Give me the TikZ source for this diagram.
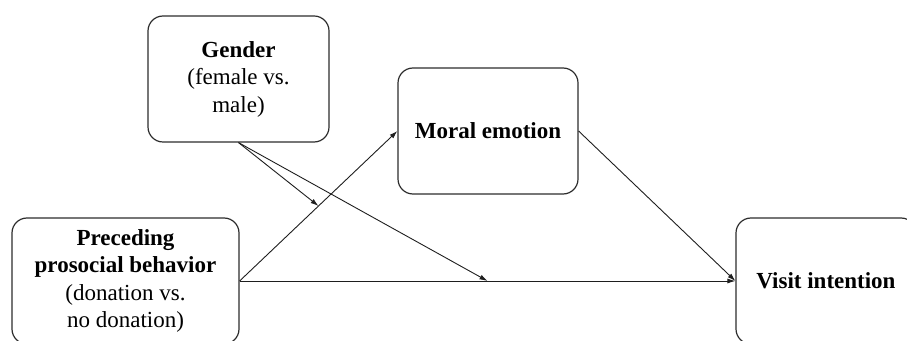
\documentclass[tikz,border=0pt]{standalone}
\usepackage{fontspec}
\setmainfont{Liberation Serif}
\usepackage{tikz}
\usetikzlibrary{calc, arrows.meta}
\tikzset{>={Latex[length=8pt,width=5pt]}}
\definecolor{sdark}{RGB}{45, 45, 45}
\definecolor{sline}{RGB}{30, 30, 30}

\begin{document}
\begin{tikzpicture}[
    x=1pt, y=1pt,
    box/.style={draw=sdark,line width=1.2pt,rounded corners=15pt,align=center,
      minimum height=126pt,font=\fontsize{23}{27.5}\selectfont},
    link/.style={->,sline,line width=0.9pt}
  ]

  \clip (0,0) rectangle (907,340);

  \node[box,minimum width=181pt] (gender) at (238.5,261) {\textbf{Gender}\\(female vs.\\male)};
  \node[box,minimum width=180pt] (moral) at (488,209) {\textbf{Moral emotion}};
  \node[box,minimum width=227pt] (prec) at (125.5,59) {\textbf{Preceding}\\\textbf{prosocial behavior}\\(donation vs.\\no donation)};
  \node[box,minimum width=180pt] (visit) at (826,59) {\textbf{Visit intention}};

    \coordinate (m1) at ($(prec.east)!0.5!(moral.west)$);
    \coordinate (m2) at ($(prec.east)!0.5!(visit.west)$);

    \draw[link] (prec.east) -- (moral.west);
    \draw[link] (prec.east) -- (visit.west);
    \draw[link] (moral.east) -- (visit.west);
    \draw[link] (gender.south) -- (m1);
    \draw[link] (gender.south) -- (m2);

\end{tikzpicture}
\end{document}
